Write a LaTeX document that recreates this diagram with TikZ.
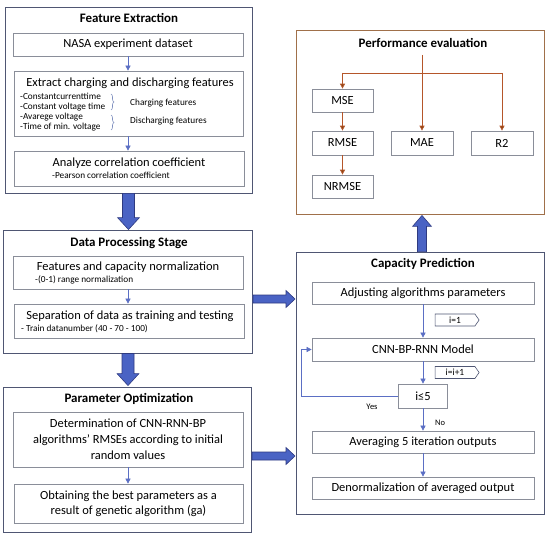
\documentclass[tikz,border=0pt]{standalone}
\usepackage{fontspec}
\setmainfont{Carlito}
\usetikzlibrary{calc,arrows.meta,shapes.symbols,decorations.pathreplacing}
\definecolor{outerc}{HTML}{4F5673}
\definecolor{innerc}{HTML}{8A8E99}
\definecolor{sarrow}{HTML}{5B6FC4}
\definecolor{bigfill}{HTML}{4A63C4}
\definecolor{bigline}{HTML}{2E3A80}
\definecolor{peborder}{HTML}{A0704A}
\definecolor{peline}{HTML}{B5562A}
\definecolor{pehead}{HTML}{8B4513}
\definecolor{bracec}{HTML}{7F8FBF}
\newcommand\mainf{\fontsize{12.5}{15}\selectfont}
\begin{document}
\begin{tikzpicture}[x=1bp,y=-1bp,
  outerbox/.style={draw=outerc,line width=0.9pt,fill=white,inner sep=0pt},
  pebox/.style={draw=peborder,line width=0.9pt,fill=white,inner sep=0pt},
  inbox/.style={draw=innerc,line width=0.7pt,inner sep=0pt,font=\mainf},
  ttl/.style={font=\bfseries\fontsize{13}{15}\selectfont,inner sep=0pt},
  mtxt/.style={font=\mainf,inner sep=0pt},
  stxt/.style={font=\fontsize{9.3}{10}\selectfont,inner sep=0pt},
  sa/.style={draw=sarrow,line width=0.6pt,-{Triangle[length=5pt,width=5pt]}},
  pa/.style={draw=peline,line width=0.7pt,-{Triangle[length=5pt,width=5pt,fill=pehead]}},
  pl/.style={draw=peline,line width=0.7pt},
  bigarrow/.style={fill=bigfill,draw=bigline,line width=0.6pt,line join=miter},
  tagbox/.style={draw=outerc,line width=0.6pt,signal,signal to=east,signal pointer angle=110,
     minimum width=44bp,minimum height=12bp,inner sep=0pt,font=\fontsize{9.5}{10}\selectfont},
  brc/.style={draw=bracec,line width=0.6pt,decorate,decoration={brace,amplitude=3pt}}
]
\useasboundingbox (0,0) rectangle (550,539);

% ---------------- Feature Extraction ----------------
\node[outerbox,minimum width=247bp,minimum height=186bp] (fe) at (128.5,100) {};
\node[ttl] (fet) at (129,18) {Feature Extraction};
\node[inbox,minimum width=230bp,minimum height=23bp] (nasa) at (128,44.5) {NASA experiment dataset};
\node[inbox,minimum width=229bp,minimum height=65bp] (ext) at (128.5,103.5) {};
\node[mtxt] (extt) at (130,83) {Extract charging and discharging features};
\node[stxt,anchor=west] (s1) at (20,96.5) {-Constantcurrenttime};
\node[stxt,anchor=west] (s2) at (20,107) {-Constant voltage time};
\node[stxt,anchor=west] (s3) at (20,117) {-Avarege voltage};
\node[stxt,anchor=west] (s4) at (20,127.5) {-Time of min. voltage};
\draw[brc] (111,94) -- (111,110);
\draw[brc] (111,115) -- (111,130);
\node[stxt,anchor=west] (cf) at (130,103.5) {Charging features};
\node[stxt,anchor=west] (df) at (130,121.5) {Discharging features};
\node[inbox,minimum width=230bp,minimum height=35bp] (ana) at (129,168.5) {};
\node[mtxt] (anat) at (129,163) {Analyze correlation coefficient};
\node[stxt,anchor=west] (anas) at (52,175) {-Pearson correlation coefficient};
\draw[sa] (nasa.south) -- (nasa.south |- ext.north);
\draw[sa] (nasa.south |- ext.south) -- (nasa.south |- ana.north);

% ---------------- Data Processing ----------------
\node[outerbox,minimum width=249bp,minimum height=123bp] (dp) at (128,291.5) {};
\node[ttl] (dpt) at (129,243) {Data Processing Stage};
\node[inbox,minimum width=230bp,minimum height=33bp] (fn) at (128,272.5) {};
\node[mtxt] (fnt) at (128,267) {Features and capacity normalization};
\node[stxt,anchor=west] (fns) at (35,280) {-(0-1) range normalization};
\node[inbox,minimum width=230bp,minimum height=34bp] (sep) at (129,321) {};
\node[mtxt] (sept) at (130,316) {Separation of data as training and testing};
\node[stxt,anchor=west] (seps) at (21,328.5) {- Train datanumber (40 - 70 - 100)};
\draw[sa] (fn.south) -- (fn.south |- sep.north);

% ---------------- Parameter Optimization ----------------
\node[outerbox,minimum width=248bp,minimum height=145bp] (po) at (127.5,459.5) {};
\node[ttl] (pot) at (129,399) {Parameter Optimization};
\node[inbox,minimum width=230bp,minimum height=55bp,align=center,font=\fontsize{12.5}{16}\selectfont] (det) at (128,439.5)
  {Determination of CNN-RNN-BP\\algorithms’ RMSEs according to initial\\random values};
\node[inbox,minimum width=229bp,minimum height=39bp,align=center,font=\fontsize{12.5}{15}\selectfont] (obt) at (128.5,503.5)
  {Obtaining the best parameters as a\\result of genetic algorithm (ga)};
\draw[sa] (det.south) -- (det.south |- obt.north);

% ---------------- Performance evaluation ----------------
\node[pebox,minimum width=248bp,minimum height=184bp] (pe) at (420,122) {};
\node[ttl] (pet) at (423,43) {Performance evaluation};
\node[inbox,minimum width=61bp,minimum height=23bp] (mse) at (342.5,100.5) {MSE};
\node[inbox,minimum width=61bp,minimum height=24bp] (rmse) at (342.5,143) {RMSE};
\node[inbox,minimum width=62bp,minimum height=24bp] (mae) at (422,143) {MAE};
\node[inbox,minimum width=62bp,minimum height=24bp] (r2) at (502,143) {R2};
\node[inbox,minimum width=61bp,minimum height=23bp] (nrmse) at (342.5,186.5) {NRMSE};
\coordinate (ptop) at (422,55);
\coordinate (hl) at (342.5,73);
\coordinate (hr) at (502,73);
\draw[pa] (ptop) -- (mae.north);
\draw[pl] (hl) -- (hr);
\draw[pa] (hl) -- (mse.north);
\draw[pa] (hr) -- (r2.north);
\draw[pa] (mse.south) -- (rmse.north);
\draw[pa] (rmse.south) -- (nrmse.north);

% ---------------- Capacity Prediction ----------------
\node[outerbox,minimum width=248bp,minimum height=262bp] (cp) at (420,383) {};
\node[ttl] (cpt) at (423,264) {Capacity Prediction};
\node[inbox,minimum width=222bp,minimum height=22bp] (adj) at (423,293) {Adjusting algorithms parameters};
\node[inbox,minimum width=222bp,minimum height=23bp] (cnn) at (423,349.5) {CNN-BP-RNN Model};
\node[inbox,minimum width=49bp,minimum height=24bp] (i5) at (423,396) {i≤5};
\node[inbox,minimum width=222bp,minimum height=22bp] (avg) at (423,442) {Averaging 5 iteration outputs};
\node[inbox,minimum width=222bp,minimum height=22bp] (den) at (423,488) {Denormalization of averaged output};
\node[tagbox] (t1) at (455,320) {i=1};
\node[tagbox] (t2) at (455,372.5) {i=i+1};
\draw[sa] (adj.south) -- (cnn.north);
\draw[sa] (cnn.south) -- (i5.north);
\draw[sa] (i5.south) -- (avg.north);
\draw[sa] (avg.south) -- (den.north);
\draw[sa] (i5.west) -- ++(-97,0) |- (cnn.west);
\node[font=\fontsize{8.5}{10}\selectfont,inner sep=0pt] (yes) at (372,407) {Yes};
\node[font=\fontsize{8.5}{10}\selectfont,inner sep=0pt] (no) at (440,423) {No};

% ---------------- Big arrows ----------------
\draw[bigarrow] ($(fe.south)+(-6,0)$) -- ($(fe.south |- dp.north)+(-6,-12)$) -- ($(fe.south |- dp.north)+(-11,-12)$)
  -- (fe.south |- dp.north) -- ($(fe.south |- dp.north)+(11,-12)$) -- ($(fe.south |- dp.north)+(6,-12)$) -- ($(fe.south)+(6,0)$) -- cycle;
\draw[bigarrow] ($(dp.south)+(-6,0)$) -- ($(dp.south |- po.north)+(-6,-13)$) -- ($(dp.south |- po.north)+(-11,-13)$)
  -- ($(dp.south |- po.north)+(0,-1)$) -- ($(dp.south |- po.north)+(11,-13)$) -- ($(dp.south |- po.north)+(6,-13)$) -- ($(dp.south)+(6,0)$) -- cycle;
\coordinate (r1) at (295,299);
\coordinate (r2a) at (295,456);
\draw[bigarrow] ($(dp.east |- r1)+(0,-4)$) -- ($(r1)+(-9,-4)$) -- ($(r1)+(-9,-8.5)$) -- (r1)
  -- ($(r1)+(-9,8.5)$) -- ($(r1)+(-9,4)$) -- ($(dp.east |- r1)+(0,4)$) -- cycle;
\draw[bigarrow] ($(po.east |- r2a)+(0,-4)$) -- ($(r2a)+(-9,-4)$) -- ($(r2a)+(-9,-8.5)$) -- (r2a)
  -- ($(r2a)+(-9,8.5)$) -- ($(r2a)+(-9,4)$) -- ($(po.east |- r2a)+(0,4)$) -- cycle;
\draw[bigarrow] ($(mae |- cp.north)+(-4.5,0)$) -- ($(mae |- pe.south)+(-4.5,12)$) -- ($(mae |- pe.south)+(-9.5,12)$)
  -- ($(mae |- pe.south)+(0,1)$) -- ($(mae |- pe.south)+(9.5,12)$) -- ($(mae |- pe.south)+(4.5,12)$) -- ($(mae |- cp.north)+(4.5,0)$) -- cycle;
\end{tikzpicture}
\end{document}
